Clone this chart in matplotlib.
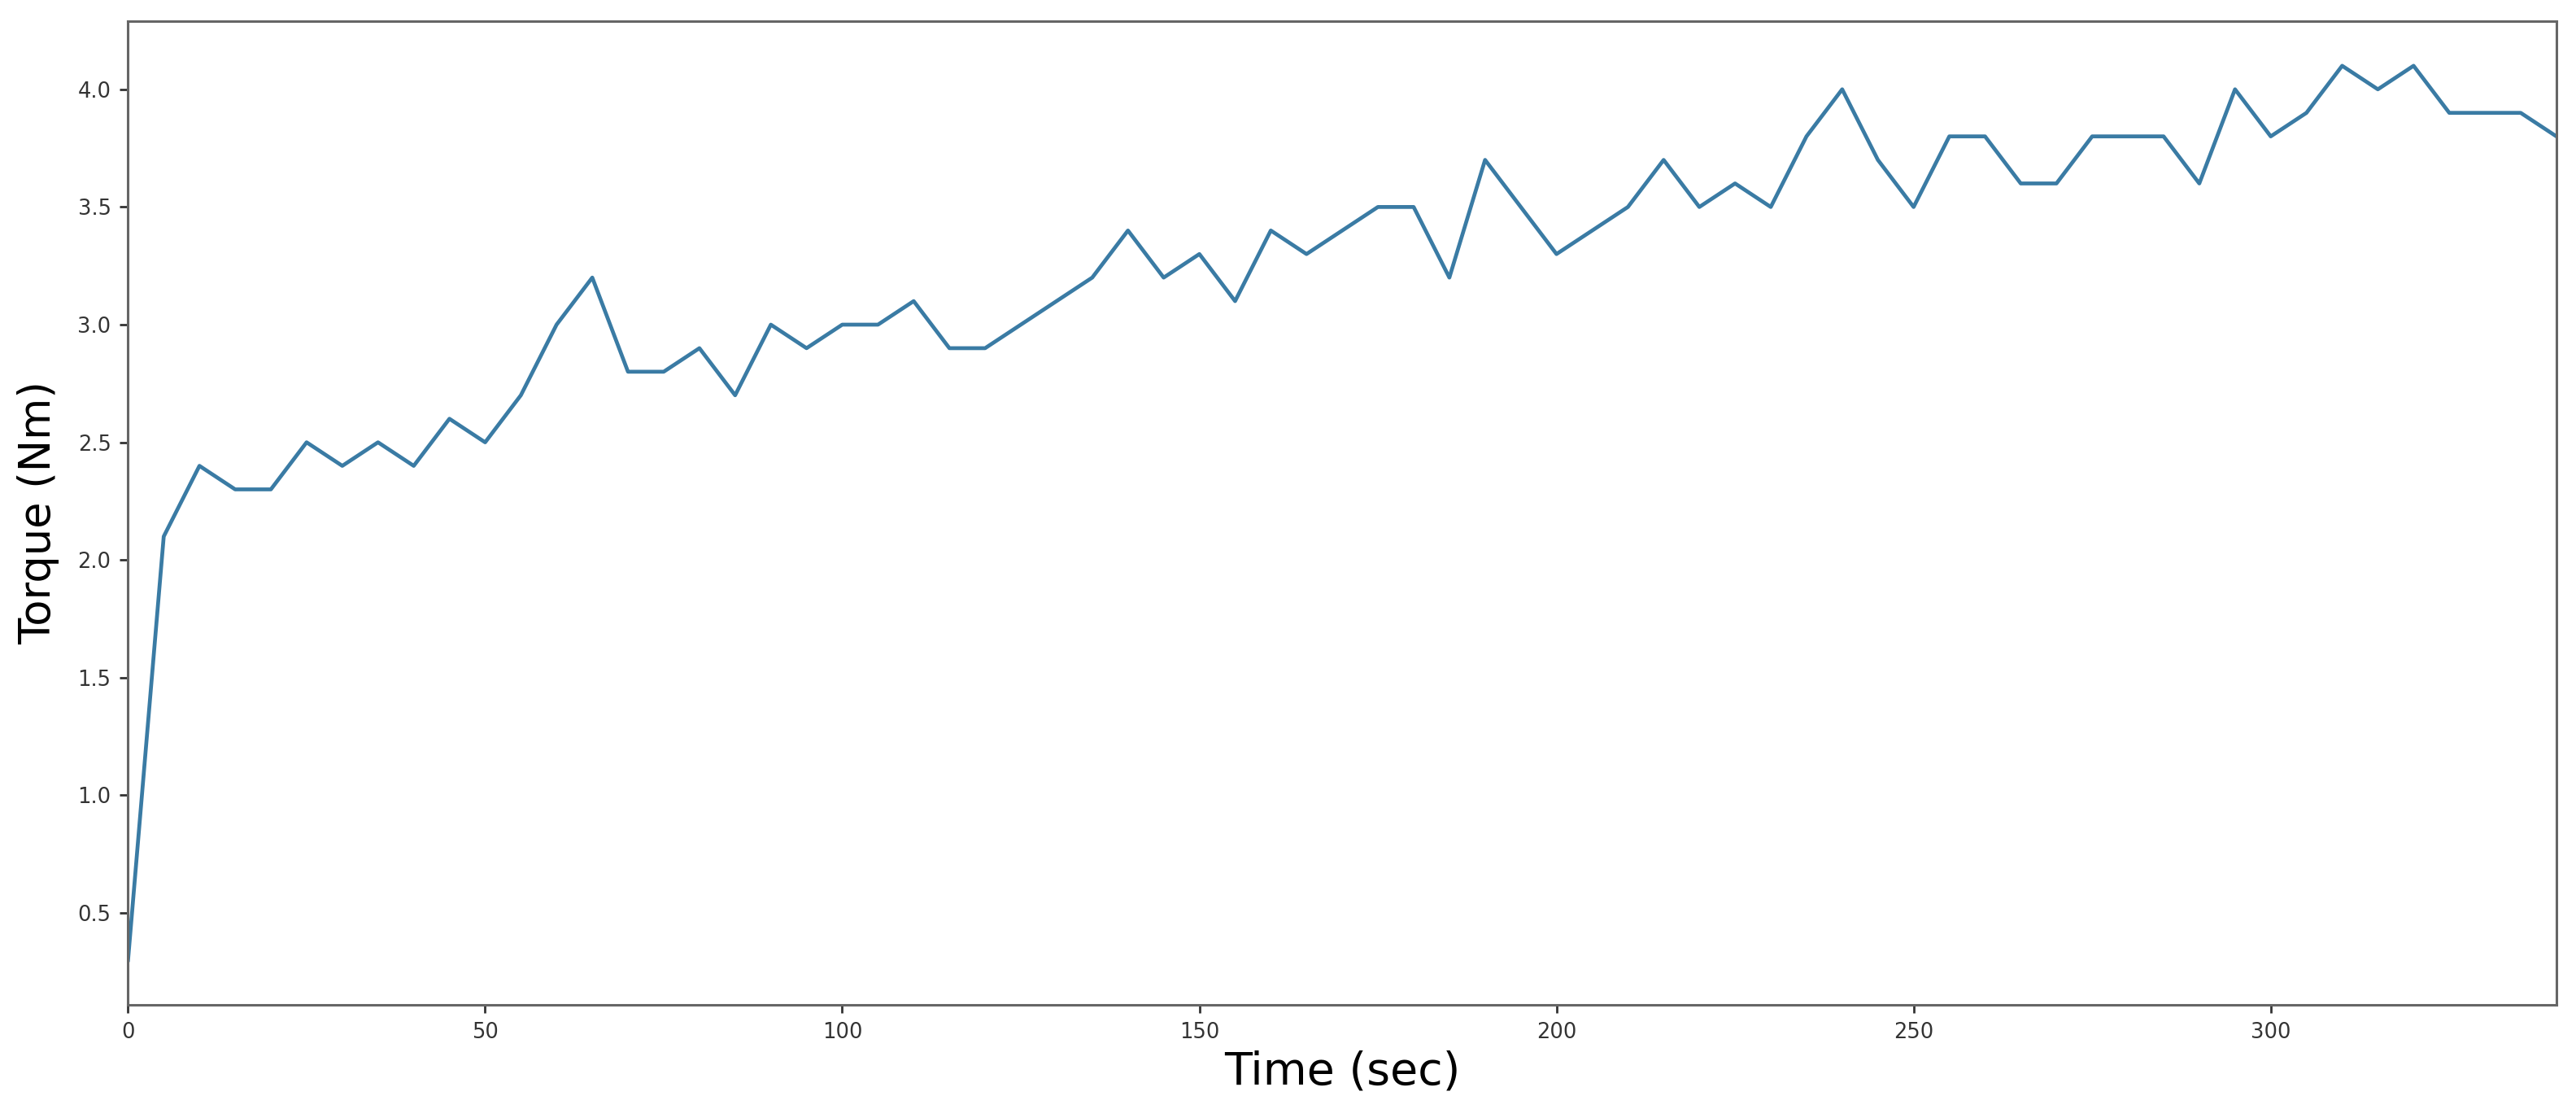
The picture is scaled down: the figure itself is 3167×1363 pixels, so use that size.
import matplotlib
matplotlib.use("Agg")
import matplotlib.pyplot as plt
import numpy as np

time_sec = list(range(0, 345, 5))
torque_nm = [0.3, 2.1, 2.4, 2.3, 2.3, 2.5, 2.4, 2.5, 2.4, 2.6,
             2.5, 2.7, 3.0, 3.2, 2.8, 2.8, 2.9, 2.7, 3.0, 2.9,
             3.0, 3.0, 3.1, 2.9, 2.9, 3.0, 3.1, 3.2, 3.4, 3.2,
             3.3, 3.1, 3.4, 3.3, 3.4, 3.5, 3.5, 3.2, 3.7, 3.5,
             3.3, 3.4, 3.5, 3.7, 3.5, 3.6, 3.5, 3.8, 4.0, 3.7,
             3.5, 3.8, 3.8, 3.6, 3.6, 3.8, 3.8, 3.8, 3.6, 4.0,
             3.8, 3.9, 4.1, 4.0, 4.1, 3.9, 3.9, 3.9, 3.8]
x_ticks = [0, 50, 100, 150, 200, 250, 300]
y_ticks = [0.5, 1.0, 1.5, 2.0, 2.5, 3.0, 3.5, 4.0]

fig = plt.figure(figsize=(31.67, 13.63), dpi=100)
ax = fig.add_axes([0.0497, 0.094, 0.9427, 0.887])
ax.plot(time_sec, torque_nm, color="#3a7ba4", linewidth=3.4)
ax.set_xlim(0, 340)
ax.margins(y=0.05)
ax.set_xticks(x_ticks)
ax.set_yticks(y_ticks)
ax.tick_params(labelsize=18.5, colors="#333333", length=7, width=2, pad=8)
for s in ax.spines.values():
    s.set_color("#666666")
    s.set_linewidth(2.2)
ax.set_xlabel("Time (sec)", fontsize=40, labelpad=6)
ax.set_ylabel("Torque (Nm)", fontsize=38, labelpad=16)
fig.savefig("out.png", dpi=100, facecolor="white")
